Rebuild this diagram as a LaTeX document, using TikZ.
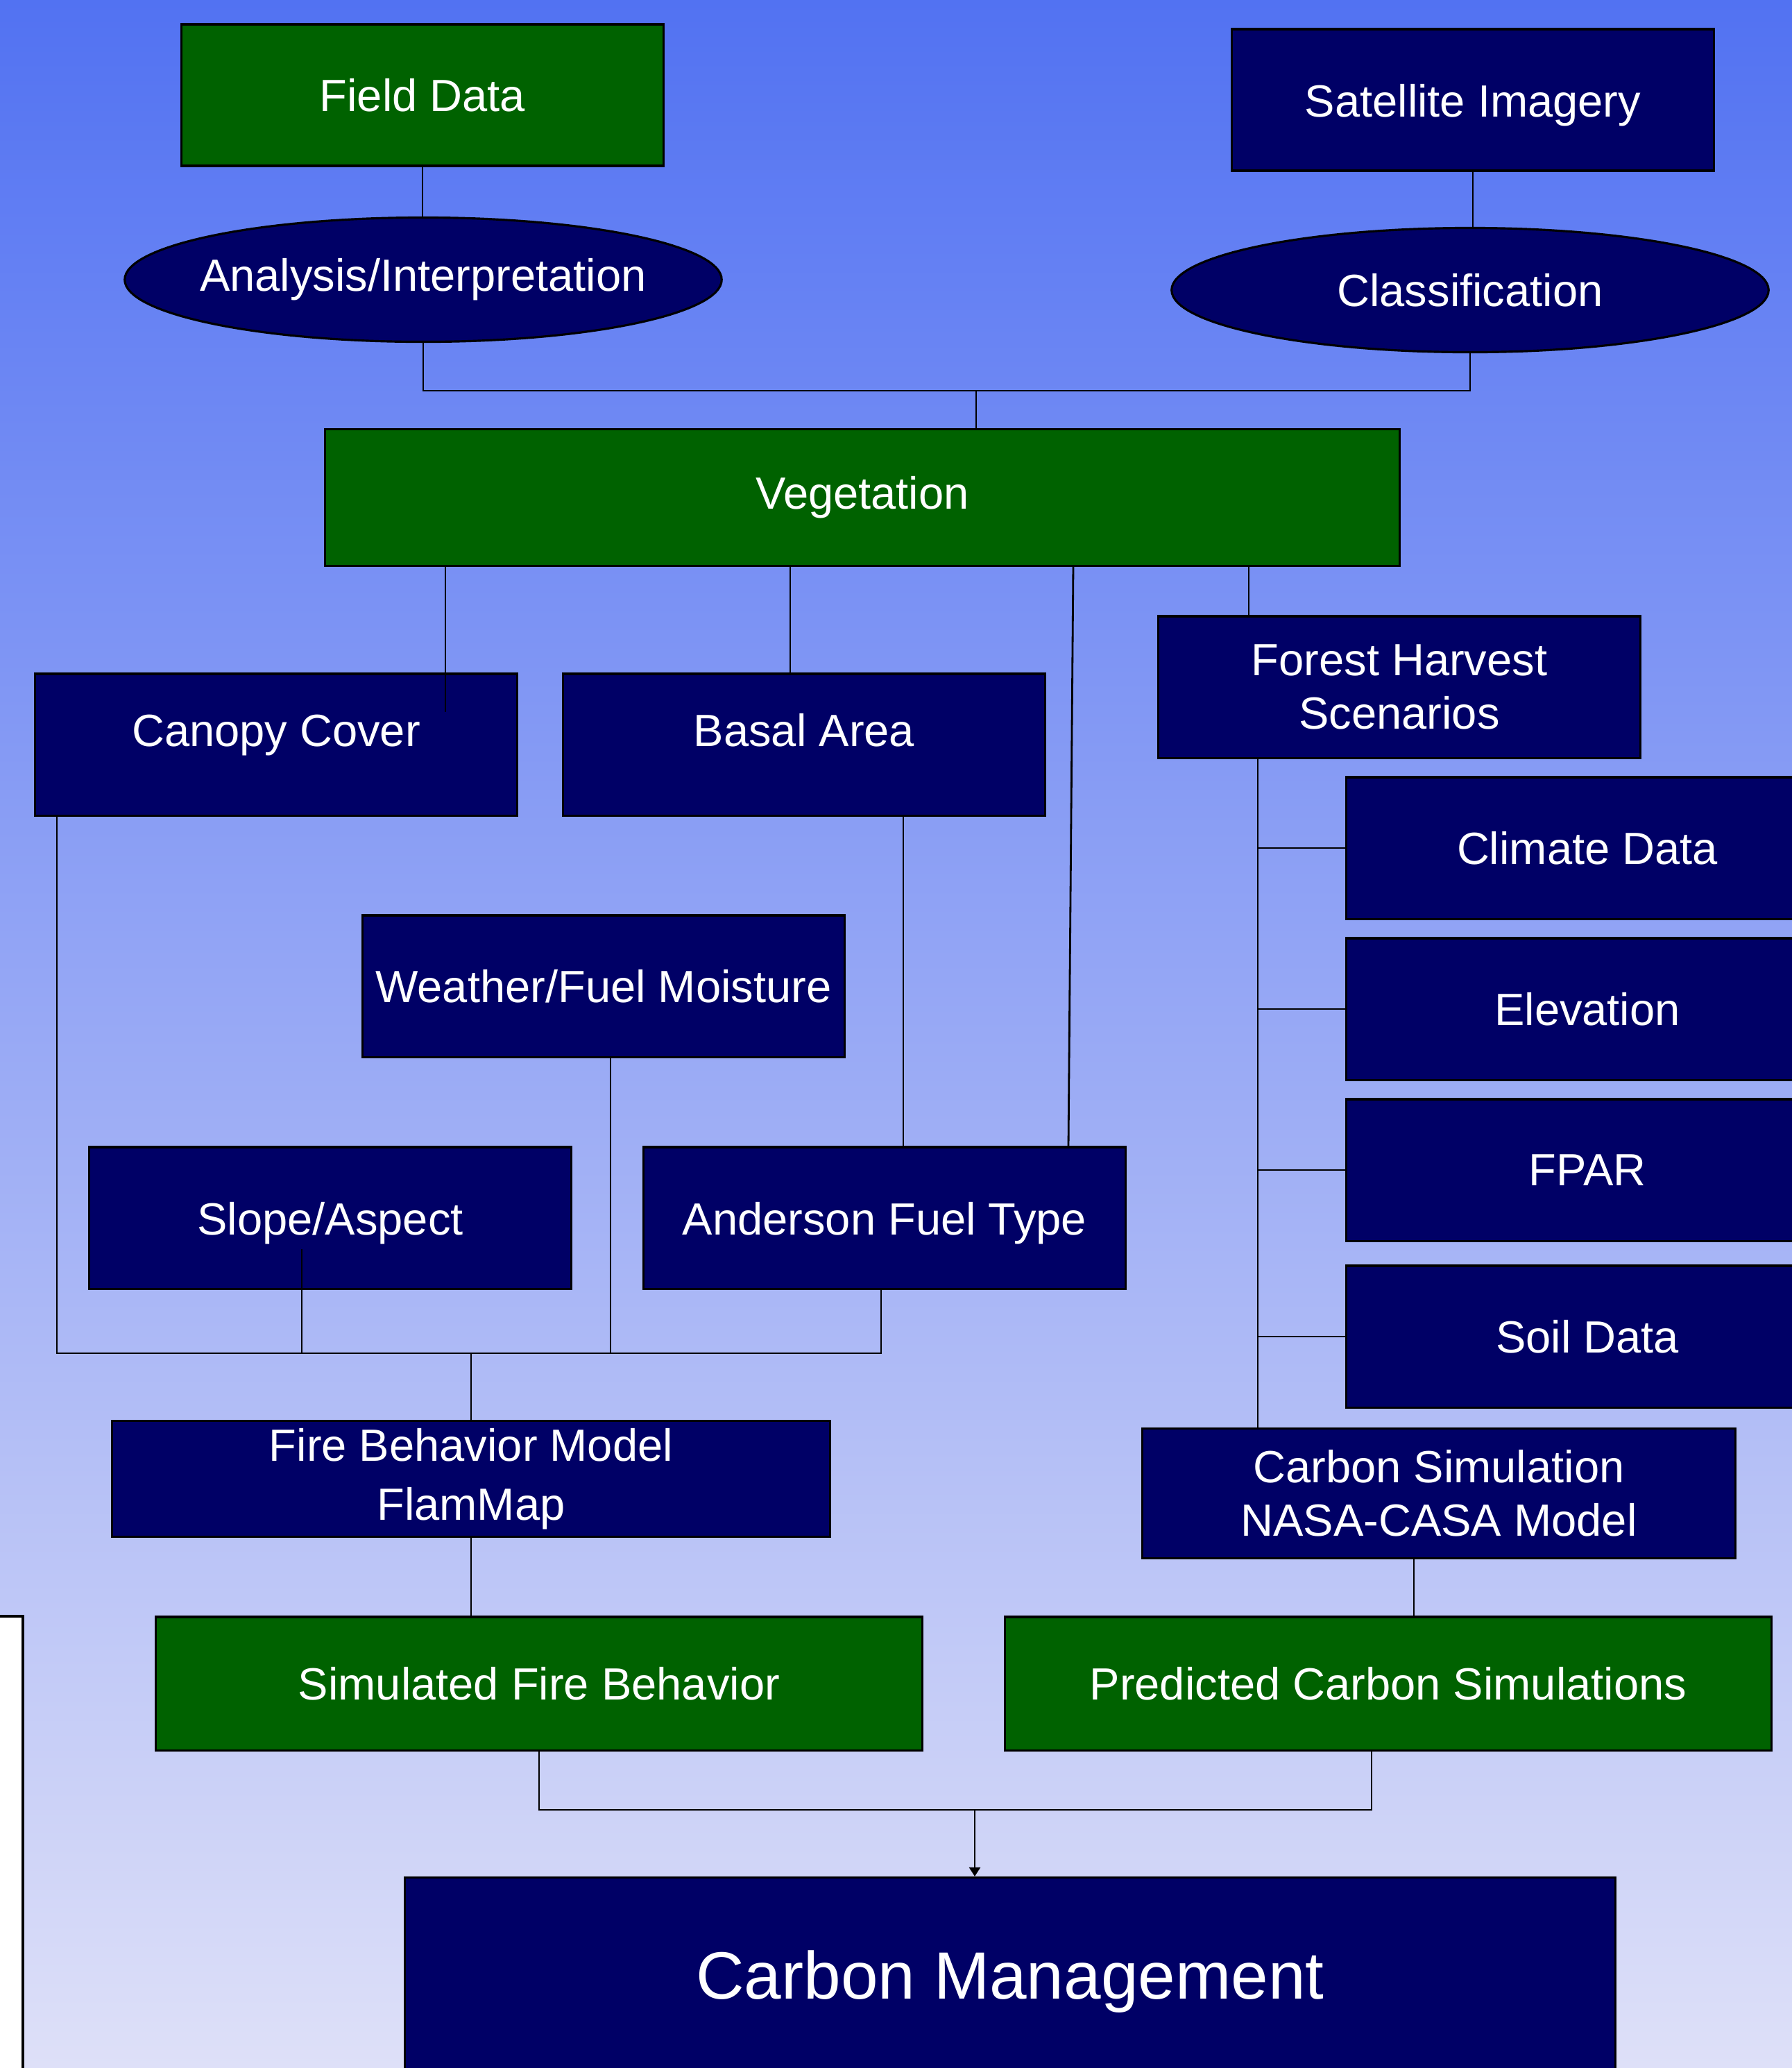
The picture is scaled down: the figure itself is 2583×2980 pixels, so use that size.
\documentclass[tikz,border=0pt]{standalone}
\usepackage{fontspec}
\setmainfont{Liberation Sans}
\usetikzlibrary{shapes.geometric,arrows.meta}
\definecolor{navyfill}{RGB}{0,0,102}
\definecolor{leaffill}{RGB}{0,98,0}
\definecolor{skytop}{RGB}{82,114,242}
\definecolor{skybottom}{RGB}{222,224,248}
\def\lift#1#2{\raisebox{#1}[\height][\depth]{#2}}

\begin{document}
\begin{tikzpicture}[x=0.01cm,y=-0.01cm,
				every node/.style={text=white,font=\fontsize{18.5}{22}\selectfont},
				darkbox/.style={rectangle,draw=black,line width=0.9pt,fill=navyfill,align=center,
					inner sep=0pt,minimum width=6.94cm,minimum height=2.04cm},
				leafbox/.style={darkbox,fill=leaffill},
				oval/.style={ellipse,draw=black,line width=0.9pt,fill=navyfill,
					inner xsep=-0.3cm,inner ysep=0pt,minimum width=8.6cm,minimum height=1.79cm},
				link/.style={draw=black,line width=0.8pt}]
			\useasboundingbox (0,0) rectangle (2583,2980);
			\fill[top color=skytop,bottom color=skybottom] (0,0) rectangle (2583,2980);
			\draw[fill=white,line width=1pt] (-20,2329) rectangle (33,3050);

			\node[leafbox] (field) at (609,137) {Field Data};
			\node[darkbox] (satellite) at (2123,144) {\lift{-0.08cm}{Satellite Imagery}};
			\node[oval] (analysis) at (610,403) {Analysis/Interpretation};
			\node[oval] (classification) at (2119,418) {Classification};
			\node[leafbox,minimum width=15.48cm,minimum height=1.97cm] (vegetation) at (1243,717) {Vegetation};
			\node[darkbox] (canopy) at (398,1073) {\lift{0.13cm}{Canopy Cover}};
			\node[darkbox] (basal) at (1159,1073) {\lift{0.21cm}{Basal Area}};
			\node[darkbox] (harvest) at (2017,990) {Forest Harvest\\Scenarios};
			\node[darkbox] (climate) at (2288,1222) {Climate Data};
			\node[darkbox] (elevation) at (2288,1454) {Elevation};
			\node[darkbox] (fpar) at (2288,1686) {FPAR};
			\node[darkbox] (soil) at (2288,1926) {Soil Data};
			\node[darkbox] (weather) at (870,1421) {Weather/Fuel Moisture};
			\node[darkbox] (slope) at (476,1755) {\lift{-0.08cm}{Slope/Aspect}};
			\node[darkbox] (anderson) at (1275,1755) {\lift{-0.08cm}{Anderson Fuel Type}};
			\node[darkbox,minimum width=10.34cm,minimum height=1.67cm,
				font=\fontsize{18.5}{24}\selectfont] (flammap) at (679,2131) {Fire Behavior Model\\FlamMap};
			\node[darkbox,minimum width=8.55cm,minimum height=1.87cm] (casa) at (2074,2152) {Carbon Simulation\\NASA-CASA Model};
			\node[leafbox,minimum width=11.05cm,minimum height=1.92cm] (simfire) at (777,2426) {Simulated Fire Behavior};
			\node[leafbox,minimum width=11.05cm,minimum height=1.92cm] (predcarbon) at (2001,2426) {Predicted Carbon Simulations};
			\node[darkbox,minimum width=17.44cm,minimum height=2.85cm,
				font=\fontsize{27.4}{32}\selectfont] (management) at (1456,2848) {\lift{-0.08cm}{Carbon Management}};

			\coordinate (topjoin) at (1407,563);
			\coordinate (canopytap) at (642,1026);
			\coordinate (basaltap) at (1139,971);
			\coordinate (fueltap) at (1540,1654);
			\coordinate (harvesttap) at (1800,888);
			\coordinate (trunk) at (1813,1091);
			\coordinate (basaldrop) at (1302,1175);
			\coordinate (leftbus) at (82,1950);
			\coordinate (rightbus) at (1270,1950);
			\coordinate (slopetap) at (435,1800);
			\coordinate (weathertap) at (880,1522);
			\coordinate (casatap) at (2038,2245);
			\coordinate (bottomjoin) at (1405,2608);
			\coordinate (carbontap) at (1977,2608);

			\draw[link] (field.south) -- (field.south |- analysis.north);
			\draw[link] (satellite.south) -- (satellite.south |- classification.north);
			\draw[link] (analysis.south) |- (topjoin) -| (classification.south);
			\draw[link] (topjoin) -- (topjoin |- vegetation.north);
			\draw[link] (canopytap |- vegetation.south) -- (canopytap);
			\draw[link] (basaltap |- vegetation.south) -- (basaltap);
			\draw[link] (1547,815) -- (fueltap);
			\draw[link] (harvesttap |- vegetation.south) -- (harvesttap);
			\draw[link] (trunk) -- (trunk |- casa.north);
			\draw[link] (trunk |- climate.west) -- (climate.west);
			\draw[link] (trunk |- elevation.west) -- (elevation.west);
			\draw[link] (trunk |- fpar.west) -- (fpar.west);
			\draw[link] (trunk |- soil.west) -- (soil.west);
			\draw[link] (basaldrop) -- (basaldrop |- anderson.north);
			\draw[link] (leftbus |- canopy.south) -- (leftbus) -- (rightbus) -- (rightbus |- anderson.south);
			\draw[link] (slopetap) -- (slopetap |- leftbus);
			\draw[link] (weathertap) -- (weathertap |- leftbus);
			\draw[link] (flammap.north |- leftbus) -- (flammap.north);
			\draw[link] (flammap.south) -- (flammap.south |- simfire.north);
			\draw[link] (casatap) -- (casatap |- predcarbon.north);
			\draw[link] (simfire.south) |- (bottomjoin) -- (carbontap) -- (carbontap |- predcarbon.south);
			\draw[link,-{Triangle[length=0.13cm,width=0.16cm]}] (bottomjoin) -- (bottomjoin |- management.north);
		\end{tikzpicture}
\end{document}
